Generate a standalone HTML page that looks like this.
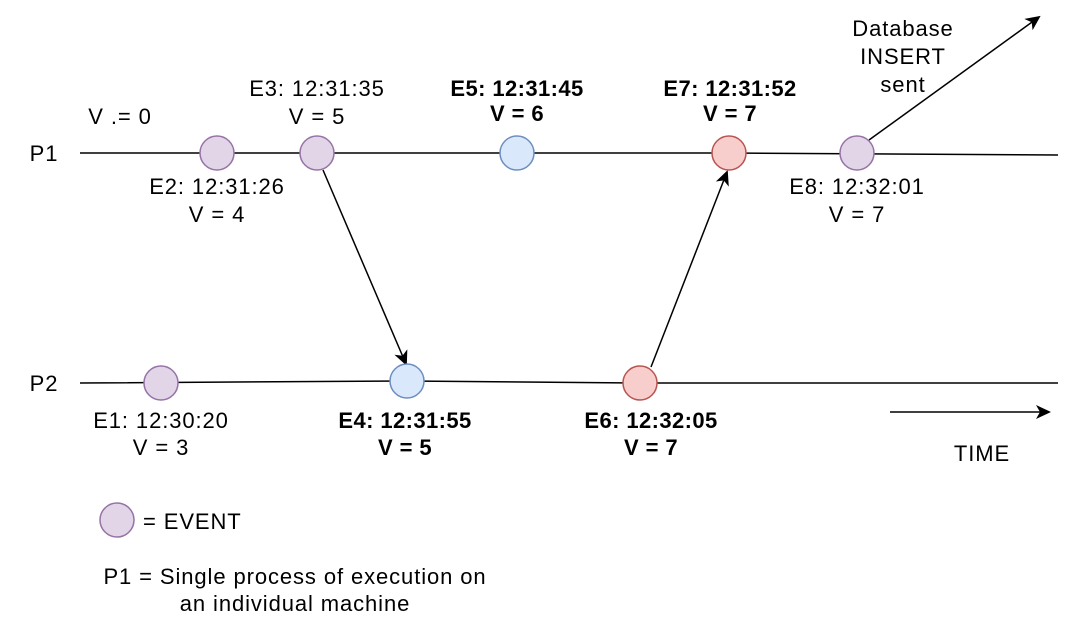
<!DOCTYPE html>
<html><head><style>
body{margin:0;background:#fff;}
svg text{font-family:"Liberation Sans",sans-serif;font-size:22px;fill:#000;letter-spacing:0.9px;}
.b{font-weight:bold;letter-spacing:0.4px;}
</style></head><body>
<svg width="1068" height="614" xmlns="http://www.w3.org/2000/svg">
<defs><marker id="a" markerWidth="16" markerHeight="16" refX="13" refY="7" orient="auto" markerUnits="userSpaceOnUse"><path d="M0,0 L15,7 L0,14 L4,7 Z" fill="#000"/></marker></defs>
<g stroke="#000" stroke-width="1.5" fill="none">
<path d="M80 153 L729 153 L1058 155"/>
<path d="M80 383 L407 381 L640 383 L1058 383"/>
<path d="M323 170 L406 364" marker-end="url(#a)"/>
<path d="M651 367 L727 172" marker-end="url(#a)"/>
<path d="M869 140 L1039 17" marker-end="url(#a)"/>
<path d="M890 412 L1049 412" marker-end="url(#a)"/>
</g>
<g stroke-width="1.5">
<circle cx="217" cy="153" r="17" fill="#e1d5e7" stroke="#9673a6"/>
<circle cx="317" cy="153" r="17" fill="#e1d5e7" stroke="#9673a6"/>
<circle cx="517" cy="153" r="17" fill="#dae8fc" stroke="#6c8ebf"/>
<circle cx="729" cy="153" r="17" fill="#f8cecc" stroke="#b85450"/>
<circle cx="857" cy="153" r="17" fill="#e1d5e7" stroke="#9673a6"/>
<circle cx="161" cy="383" r="17" fill="#e1d5e7" stroke="#9673a6"/>
<circle cx="407" cy="381" r="17" fill="#dae8fc" stroke="#6c8ebf"/>
<circle cx="640" cy="383" r="17" fill="#f8cecc" stroke="#b85450"/>
<circle cx="117" cy="520" r="17" fill="#e1d5e7" stroke="#9673a6"/>
</g>
<g text-anchor="middle">
<text x="44" y="161">P1</text>
<text x="44" y="391">P2</text>
<text x="120" y="124">V .= 0</text>
<text x="317" y="96">E3: 12:31:35</text><text x="317" y="124">V = 5</text>
<text class="b" x="517" y="96">E5: 12:31:45</text><text class="b" x="517" y="121">V = 6</text>
<text class="b" x="730" y="96">E7: 12:31:52</text><text class="b" x="730" y="121">V = 7</text>
<text x="903" y="36">Database</text><text x="903" y="64">INSERT</text><text x="903" y="92">sent</text>
<text x="217" y="194">E2: 12:31:26</text><text x="217" y="222">V = 4</text>
<text x="857" y="194">E8: 12:32:01</text><text x="857" y="222">V = 7</text>
<text x="161" y="428">E1: 12:30:20</text><text x="161" y="455">V = 3</text>
<text class="b" x="405" y="428">E4: 12:31:55</text><text class="b" x="405" y="455">V = 5</text>
<text class="b" x="651" y="428">E6: 12:32:05</text><text class="b" x="651" y="455">V = 7</text>
<text x="982" y="461">TIME</text>
<text x="295" y="584">P1 = Single process of execution on</text>
<text x="295" y="611">an individual machine</text>
</g>
<text x="143" y="529">= EVENT</text>
</svg>
</body></html>
